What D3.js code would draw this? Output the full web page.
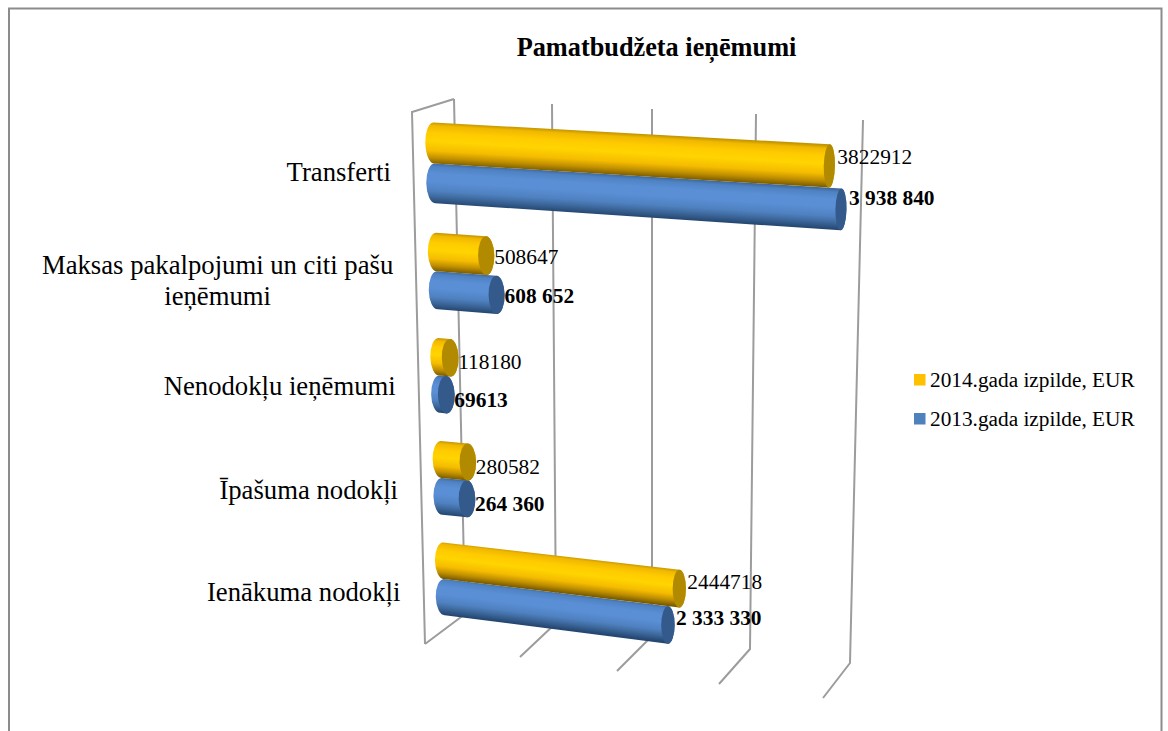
<!DOCTYPE html>
<html>
<head>
<meta charset="utf-8">
<script src="https://d3js.org/d3.v7.min.js"></script>
<style>
	html, body { margin: 0; padding: 0; background: #fff; }
	svg { display: block; }
	text { font-family: "Liberation Serif", serif; fill: #000; }
</style>
</head>
<body>
<div id="root"></div>
<script>
const width = 1168;
const height = 731;

// data, top to bottom
const categories = ["Transferti", "Maksas pakalpojumi un citi pašu ieņēmumi", "Nenodokļu ieņēmumi", "Īpašuma nodokļi", "Ienākuma nodokļi"];
const categoryLines = [["Transferti"], ["Maksas pakalpojumi un citi pašu", "ieņēmumi"], ["Nenodokļu ieņēmumi"], ["Īpašuma nodokļi"], ["Ienākuma nodokļi"]];
const seriesNames = ["2014.gada izpilde, EUR", "2013.gada izpilde, EUR"];
const values2014 = [3822912, 508647, 118180, 280582, 2444718];
const values2013 = [3938840, 608652, 69613, 264360, 2333330];
const labels2014 = ["3822912", "508647", "118180", "280582", "2444718"];
const labels2013 = ["3 938 840", "608 652", "69613", "264 360", "2 333 330"];
const ticks = [0, 1000000, 2000000, 3000000, 4000000];

// the 3d box as the picture shows it: where each tick lands on the four long edges
const edge = (xs, ys) => {
	const x = d3.scaleLinear().domain(ticks).range(xs);
	const y = d3.scaleLinear().domain(ticks).range(ys);
	return v => [x(v), y(v)];
};
const backTop = edge([454, 552, 652, 756, 863], [99, 104, 109, 114, 120]);
const backBottom = edge([465, 556, 652, 750, 850], [614, 623, 636, 649, 663]);
const frontTop = edge([412, 514, 617, 725, 836], [112, 118, 124, 129, 135]);
const frontBottom = edge([425, 520, 617, 719, 823], [644, 657, 671, 684, 698]);

const mix = (a, b, t) => [a[0] + (b[0] - a[0]) * t, a[1] + (b[1] - a[1]) * t];

// t runs down the wall, the power bends it for the perspective
const warp = d3.scalePow().exponent(0.955).domain([0, 1]).range([0, 1]);
const project = (v, t, depth) => mix(
	mix(backTop(v), backBottom(v), warp(t)),
	mix(frontTop(v), frontBottom(v), warp(t)),
	depth
);

const scaleCategory = d3.scaleBand().domain(categories).range([0, 1]).paddingInner(0.275).paddingOuter(0.1375);
const scaleSeries = d3.scaleBand().domain(seriesNames).range([0, scaleCategory.bandwidth()]);
const scaleCapWidth = d3.scaleLinear().domain([0, 4000000]).range([8.5, 5.5]);

const series = [
	{ name: seriesNames[0], values: values2014, labels: labels2014, bold: false, cap: "#b18a00", legend: "#ffc000",
		stops: ["#c39500", "#f0b800", "#ffcb00", "#ffd400", "#f5bc00", "#c08f00", "#7a5c00"] },
	{ name: seriesNames[1], values: values2013, labels: labels2013, bold: true, cap: "#34598b", legend: "#4f81bd",
		stops: ["#3f6a9f", "#4f82c2", "#5a8fd6", "#5a8fd6", "#4f81c0", "#3a6496", "#244670"] }
];

const svg = d3.select("#root").append("svg").attr("width", width).attr("height", height);
const defs = svg.append("defs");

// chart frame, open at the bottom
svg.append("path")
	.attr("d", d3.line()([[9, height], [9, 8.5], [1161.5, 8.5], [1161.5, height]]))
	.attr("fill", "none")
	.attr("stroke", "#8c8c8c")
	.attr("stroke-width", 2);

svg.append("text")
	.attr("x", 656.5)
	.attr("y", 56)
	.attr("text-anchor", "middle")
	.attr("font-size", 26.3)
	.attr("font-weight", "bold")
	.text("Pamatbudžeta ieņēmumi");

// walls and floor
const line = d3.line();
const grid = svg.append("g").attr("fill", "none").attr("stroke", "#9c9c9c").attr("stroke-width", 2);
grid.selectAll("path")
	.data(ticks).enter()
	.append("path")
		.attr("d", d => line([backTop(d), backBottom(d), frontBottom(d)]));
grid.append("path")
	.attr("d", line([backTop(0), frontTop(0), frontBottom(0)]));

function buildBar(v, t0, t1) {
	const a = project(0, t0, 0.5);
	const b = project(v, t0, 0.5);
	const c = project(v, t1, 0.5);
	const d = project(0, t1, 0.5);
	const rotA = Math.atan2(d[1] - a[1], d[0] - a[0]) * 180 / Math.PI - 90;
	const rotB = Math.atan2(c[1] - b[1], c[0] - b[0]) * 180 / Math.PI - 90;
	const ryA = Math.hypot(d[0] - a[0], d[1] - a[1]) / 2;
	const ryB = Math.hypot(c[0] - b[0], c[1] - b[1]) / 2;
	const rxA = scaleCapWidth(0);
	const rxB = scaleCapWidth(v);
	return {
		body: `M ${a} L ${b} A ${rxB} ${ryB} ${rotB} 0 1 ${c} L ${d} A ${rxA} ${ryA} ${rotA} 0 1 ${a} Z`,
		cap: `M ${b} A ${rxB} ${ryB} ${rotB} 0 1 ${c} A ${rxB} ${ryB} ${rotB} 0 1 ${b} Z`
	};
}

// shading runs across the cylinder, so the gradient vector is square to its axis
function shadeVector(v, t0, t1) {
	const from = project(v / 2, t0, 0.5);
	const to = project(v / 2, t1, 0.5);
	const start = project(0, (t0 + t1) / 2, 0.5);
	const end = project(v, (t0 + t1) / 2, 0.5);
	const len = Math.hypot(end[0] - start[0], end[1] - start[1]);
	const n = [-(end[1] - start[1]) / len, (end[0] - start[0]) / len];
	const across = (to[0] - from[0]) * n[0] + (to[1] - from[1]) * n[1];
	return [from, [from[0] + n[0] * across, from[1] + n[1] * across]];
}

// blue goes under yellow inside each category
const bars = svg.append("g");
const labels = svg.append("g");
const labelDy = d3.scaleLinear().domain([0, categories.length - 1]).range([9, 15]);
categories.forEach((cat, i) => {
	[1, 0].forEach(s => {
		const d = series[s];
		const t0 = scaleCategory(cat) + scaleSeries(d.name);
		const t1 = t0 + scaleSeries.bandwidth();
		const v = d.values[i];
		const shape = buildBar(v, t0, t1);

		const [from, to] = shadeVector(v, t0, t1);
		const id = `grad-${s}-${i}`;
		defs.append("linearGradient")
			.attr("id", id)
			.attr("gradientUnits", "userSpaceOnUse")
			.attr("x1", from[0]).attr("y1", from[1])
			.attr("x2", to[0]).attr("y2", to[1])
			.selectAll("stop")
			.data([0, 0.08, 0.25, 0.45, 0.68, 0.85, 1]).enter()
			.append("stop")
				.attr("offset", o => o)
				.attr("stop-color", (o, j) => d.stops[j]);

		bars.append("path").attr("d", shape.body).attr("fill", `url(#${id})`);
		bars.append("path").attr("d", shape.cap).attr("fill", d.cap);

		const tm = (t0 + t1) / 2;
		labels.append("text")
			.attr("x", project(v, tm, 0.5)[0] + 8)
			.attr("y", project(v / 2, tm, 0.5)[1] + labelDy(i))
			.attr("font-size", 21.4)
			.attr("font-weight", d.bold ? "bold" : "normal")
			.text(d.labels[i]);
	});
});

// category labels, right edge follows the left wall
const categoryDy = d3.scaleLinear().domain([0, categories.length - 1]).range([17, 22.5]);
categories.forEach((cat, i) => {
	const tm = scaleCategory(cat) + scaleCategory.bandwidth() / 2;
	const p = project(0, tm, 0.5);
	const lines = categoryLines[i];
	const g = svg.append("g");
	const texts = g.selectAll("text")
		.data(lines).enter()
		.append("text")
			.attr("font-size", 26.7)
			.attr("y", (d, j) => p[1] + categoryDy(i) + (j - (lines.length - 1) / 2) * 31)
			.text(d => d);
	const widest = d3.max(texts.nodes(), n => n.getComputedTextLength());
	texts.attr("x", p[0] - 43.5 - widest / 2).attr("text-anchor", "middle");
});

// legend
const legend = svg.append("g")
	.selectAll("g")
	.data(series).enter()
	.append("g")
		.attr("transform", (d, i) => `translate(914, ${374 + i * 39})`);
legend.append("rect").attr("width", 11.5).attr("height", 11.5).attr("fill", d => d.legend);
legend.append("text").attr("x", 16).attr("y", 12.5).attr("font-size", 21.3).text(d => d.name);
</script>
</body>
</html>
